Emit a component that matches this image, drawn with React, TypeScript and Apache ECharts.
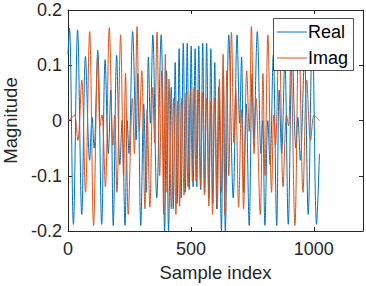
import React, { useEffect, useRef } from "react";
import * as echarts from "echarts";

// Sample indices / values of the turning points
const realIdx = [
  0, 6, 22, 39, 56, 71, 88, 98, 106, 121, 137, 151, 164, 174, 184, 198, 211, 220, 232, 241, 248, 263, 277, 284, 296,
  308, 318, 327, 335, 345, 361, 379, 393, 401, 409, 420, 428, 436, 444, 452, 460, 469, 477, 485, 493, 501, 509, 517,
  524, 532, 540, 548, 556, 564, 573, 581, 589, 597, 605, 613, 624, 632, 640, 654, 672, 688, 698, 706, 715, 725, 737,
  749, 756, 770, 785, 792, 801, 813, 822, 835, 849, 859, 869, 882, 896, 912, 927, 935, 945, 962, 977, 994, 1011, 1023,
];
const realVal = [
  0.12, 0.167, -0.188, 0.164, -0.17, 0.116, -0.072, 0.006, -0.05, 0.127, -0.188, 0.11, -0.06, 0.055, -0.19, 0.118,
  -0.08, 0.0, -0.19, 0.0, -0.06, 0.161, -0.035, 0.085, -0.19, 0.03, -0.13, 0.115, -0.005, 0.155, -0.14, 0.155, -0.2,
  0.09, -0.2, 0.06, -0.16, 0.105, -0.15, 0.13, -0.14, 0.14, -0.13, 0.14, -0.125, 0.135, -0.12, 0.13, -0.12, 0.135,
  -0.125, 0.14, -0.13, 0.14, -0.14, 0.13, -0.15, 0.105, -0.16, 0.06, -0.2, 0.09, -0.2, 0.155, -0.14, 0.155, -0.005,
  0.115, -0.13, 0.03, -0.19, 0.085, -0.035, 0.161, -0.06, 0.0, -0.19, 0.0, -0.08, 0.118, -0.19, 0.055, -0.06, 0.11,
  -0.188, 0.127, -0.05, 0.006, -0.072, 0.116, -0.17, 0.164, -0.188, -0.06,
];
const imagIdx = [
  0, 14, 26, 40, 56, 71, 88, 104, 121, 130, 138, 152, 168, 183, 190, 199, 214, 226, 234, 245, 262, 270, 281, 290, 300,
  313, 322, 333, 345, 352, 362, 373, 381, 389, 396, 403, 411, 420, 430, 439, 446, 454, 463, 472, 480, 488, 498, 506,
  513, 521, 529, 539, 547, 555, 564, 573, 581, 588, 597, 607, 616, 624, 631, 638, 646, 654, 665, 675, 682, 694, 705,
  714, 727, 737, 746, 757, 765, 782, 793, 801, 813, 828, 837, 844, 859, 875, 889, 897, 906, 923, 939, 956, 971, 987,
  1001, 1013, 1023,
];
const imagVal = [
  0.0, 0.004, 0.01, -0.036, 0.073, -0.13, 0.161, -0.19, 0.115, -0.01, 0.01, -0.12, 0.168, -0.045, 0.01, -0.13, 0.155,
  -0.1, 0.085, -0.17, 0.04, -0.06, 0.17, -0.02, 0.09, -0.16, 0.02, -0.157, 0.06, -0.04, 0.16, -0.1, 0.09, -0.17, 0.12,
  -0.13, 0.075, -0.16, 0.04, -0.17, 0.035, -0.155, 0.04, -0.135, 0.05, -0.12, 0.055, -0.11, 0.06, -0.11, 0.055, -0.12,
  0.05, -0.135, 0.04, -0.155, 0.035, -0.17, 0.04, -0.16, 0.075, -0.13, 0.12, -0.17, 0.09, -0.1, 0.16, -0.04, 0.06,
  -0.157, 0.02, -0.16, 0.09, -0.02, 0.17, -0.06, 0.04, -0.17, 0.085, -0.1, 0.155, -0.13, 0.01, -0.045, 0.168, -0.12,
  0.01, -0.01, 0.115, -0.19, 0.161, -0.13, 0.073, -0.036, 0.01, 0.004, 0.0,
];
const seriesNames = ["Real", "Imag"];
const xTickLabels = ["0", "500", "1000"];

const FONT = "Liberation Sans, Arial, Helvetica, sans-serif";
const AX = "#262626";
const BLUE = "#0072BD";
const ORANGE = "#D95319";

export default function App() {
  const ref = useRef<HTMLDivElement>(null);
  useEffect(() => {
    const chart = echarts.init(ref.current!, null, { renderer: "svg" });
    const realData = realIdx.map((x, i) => [x, realVal[i]]);
    const imagData = imagIdx.map((x, i) => [x, imagVal[i]]);
    const axisCommon = {
      type: "value" as const,
      axisLine: { show: true, onZero: false, lineStyle: { color: AX, width: 1 } },
      axisTick: { show: true, inside: true, length: 4, lineStyle: { color: AX, width: 1 } },
      splitLine: { show: false },
    };
    chart.setOption({
      animation: false,
      grid: { left: 68, top: 10, width: 295, height: 221, containLabel: false, outerBoundsMode: "none" },
      xAxis: [
        {
          ...axisCommon,
          position: "bottom",
          min: 0,
          max: 1200,
          interval: 500,
          axisLabel: {
            show: true,
            margin: 9,
            fontSize: 18,
            color: AX,
            fontFamily: FONT,
            formatter: (v: number) => (xTickLabels.includes(String(v)) ? String(v) : ""),
          },
          name: "Sample index",
          nameLocation: "middle",
          nameGap: 32,
          nameTextStyle: { fontSize: 18.5, color: AX, fontFamily: FONT },
        },
        {
          ...axisCommon,
          position: "top",
          min: 0,
          max: 1200,
          interval: 500,
          axisLabel: { show: false },
        },
      ],
      yAxis: [
        {
          ...axisCommon,
          position: "left",
          min: -0.2,
          max: 0.2,
          interval: 0.1,
          axisLabel: { show: true, margin: 6, fontSize: 18, color: AX, fontFamily: FONT },
          name: "Magnitude",
          nameLocation: "middle",
          nameRotate: 90,
          nameGap: 34,
          nameTextStyle: { fontSize: 18.5, color: AX, fontFamily: FONT },
        },
        {
          ...axisCommon,
          position: "right",
          min: -0.2,
          max: 0.2,
          interval: 0.1,
          axisLabel: { show: false },
        },
      ],
      series: [
        {
          name: seriesNames[0],
          type: "line",
          data: realData,
          symbol: "none",
          smooth: 0.35,
          lineStyle: { color: BLUE, width: 1 },
          itemStyle: { color: BLUE },
        },
        {
          name: seriesNames[1],
          type: "line",
          data: imagData,
          symbol: "none",
          smooth: 0.35,
          lineStyle: { color: ORANGE, width: 1 },
          itemStyle: { color: ORANGE },
        },
      ],
      graphic: [
        {
          type: "rect",
          shape: { x: 273.5, y: 18.5, width: 80, height: 52 },
          style: { fill: "#ffffff", stroke: AX, lineWidth: 0.8 },
          z: 100,
        },
        {
          type: "line",
          shape: { x1: 277, y1: 32, x2: 307, y2: 32 },
          style: { stroke: BLUE, lineWidth: 1 },
          z: 101,
        },
        {
          type: "line",
          shape: { x1: 277, y1: 58, x2: 307, y2: 58 },
          style: { stroke: ORANGE, lineWidth: 1 },
          z: 101,
        },
        {
          type: "text",
          x: 308,
          y: 32,
          style: { text: seriesNames[0], fontSize: 18, fill: "#000", fontFamily: FONT, verticalAlign: "middle" },
          z: 101,
        },
        {
          type: "text",
          x: 308,
          y: 58,
          style: { text: seriesNames[1], fontSize: 18, fill: "#000", fontFamily: FONT, verticalAlign: "middle" },
          z: 101,
        },
      ],
    });
    return () => chart.dispose();
  }, []);
  return <div ref={ref} style={{ position: "absolute", left: 0, top: 0, width: 366, height: 286 }} />;
}
